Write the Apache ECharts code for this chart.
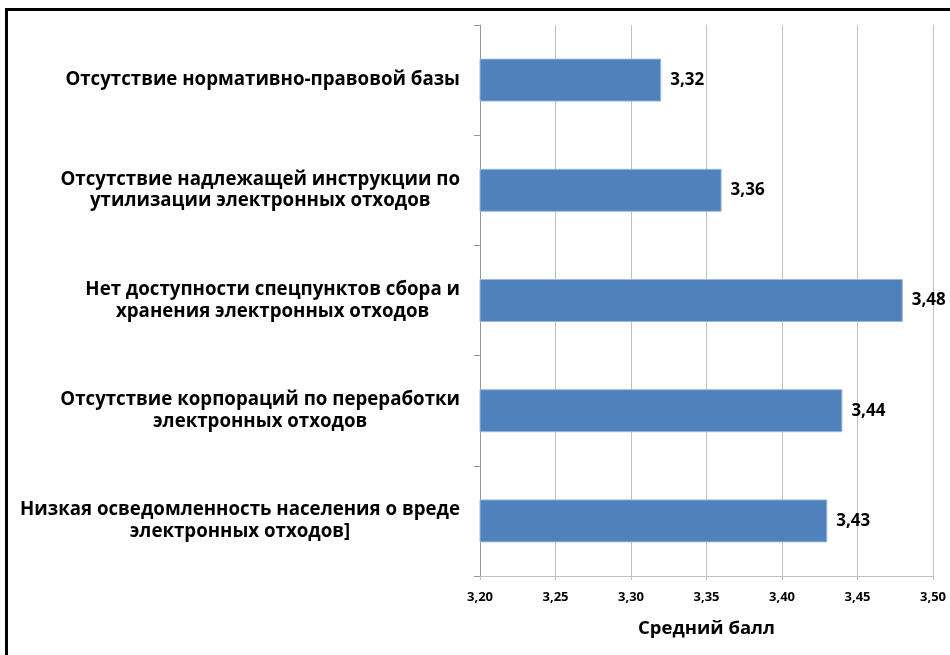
<!DOCTYPE html>
<html>
<head>
<meta charset="utf-8">
<script src="https://cdn.jsdelivr.net/npm/echarts@6/dist/echarts.min.js"></script>
<style>
  html, body { margin: 0; padding: 0; background: #fff; }
  #frame { position: absolute; left: 5px; top: 8px; width: 960px; height: 660px;
           border-left: 3px solid #000; border-top: 3px solid #000; }
  #chart { position: absolute; left: 0; top: 0; width: 950px; height: 655px; }
</style>
</head>
<body>
<div id="frame"></div>
<div id="chart"></div>
<script>
// Barriers to e-waste recycling, mean score per item
const categories = [
  'Отсутствие нормативно-правовой базы',
  'Отсутствие надлежащей инструкции по\nутилизации электронных отходов',
  'Нет доступности спецпунктов сбора и\nхранения электронных отходов',
  'Отсутствие корпораций по переработки\nэлектронных отходов',
  'Низкая осведомленность населения о вреде\nэлектронных отходов]'
];
const scores = [3.32, 3.36, 3.48, 3.44, 3.43];
const axisMin = 3.20;
const axisMax = 3.50;
const axisStep = 0.05;
const axisTitle = 'Средний балл';

const FONT = '"Open Sans"';
const commaNum = v => v.toFixed(2).replace('.', ',');

const chart = echarts.init(document.getElementById('chart'), null, { renderer: 'canvas' });
chart.setOption({
  animation: false,
  backgroundColor: 'transparent',
  grid: { left: 480, right: 17, top: 25, bottom: 79, containLabel: false },
  xAxis: {
    type: 'value',
    min: axisMin,
    max: axisMax,
    interval: axisStep,
    name: axisTitle,
    nameLocation: 'middle',
    nameGap: 43,
    nameTextStyle: { fontFamily: FONT, fontWeight: 'bold', fontSize: 18.5, color: '#000' },
    axisLine: { show: true, lineStyle: { color: '#bfbfbf', width: 1 } },
    axisTick: { show: true, length: 4, lineStyle: { color: '#bfbfbf' } },
    axisLabel: { formatter: v => commaNum(v), fontFamily: FONT, fontWeight: 'bold', fontSize: 13, color: '#000', margin: 15 },
    splitLine: { show: true, lineStyle: { color: '#bfbfbf', width: 1 } }
  },
  yAxis: {
    type: 'category',
    inverse: true,
    data: categories,
    axisLine: { show: true, lineStyle: { color: '#999', width: 1 } },
    axisTick: { show: true, length: 6, lineStyle: { color: '#999' } },
    axisLabel: {
      margin: 20,
      formatter: v => v.split('\n').map(s => '{c|' + s + '}').join('\n'),
      rich: {
        c: { align: 'center', fontFamily: FONT, fontWeight: 'bold', fontSize: 18.7, lineHeight: 21.5, color: '#000' }
      }
    }
  },
  series: [{
    type: 'bar',
    data: scores,
    barCategoryGap: '61%',
    itemStyle: { color: '#4f81bd', borderColor: '#9db8dc', borderWidth: 1 },
    label: {
      show: true,
      position: 'right',
      distance: 9,
      formatter: p => commaNum(p.value),
      fontFamily: FONT, fontWeight: 'bold', fontSize: 17, color: '#000'
    }
  }]
});
</script>
</body>
</html>
